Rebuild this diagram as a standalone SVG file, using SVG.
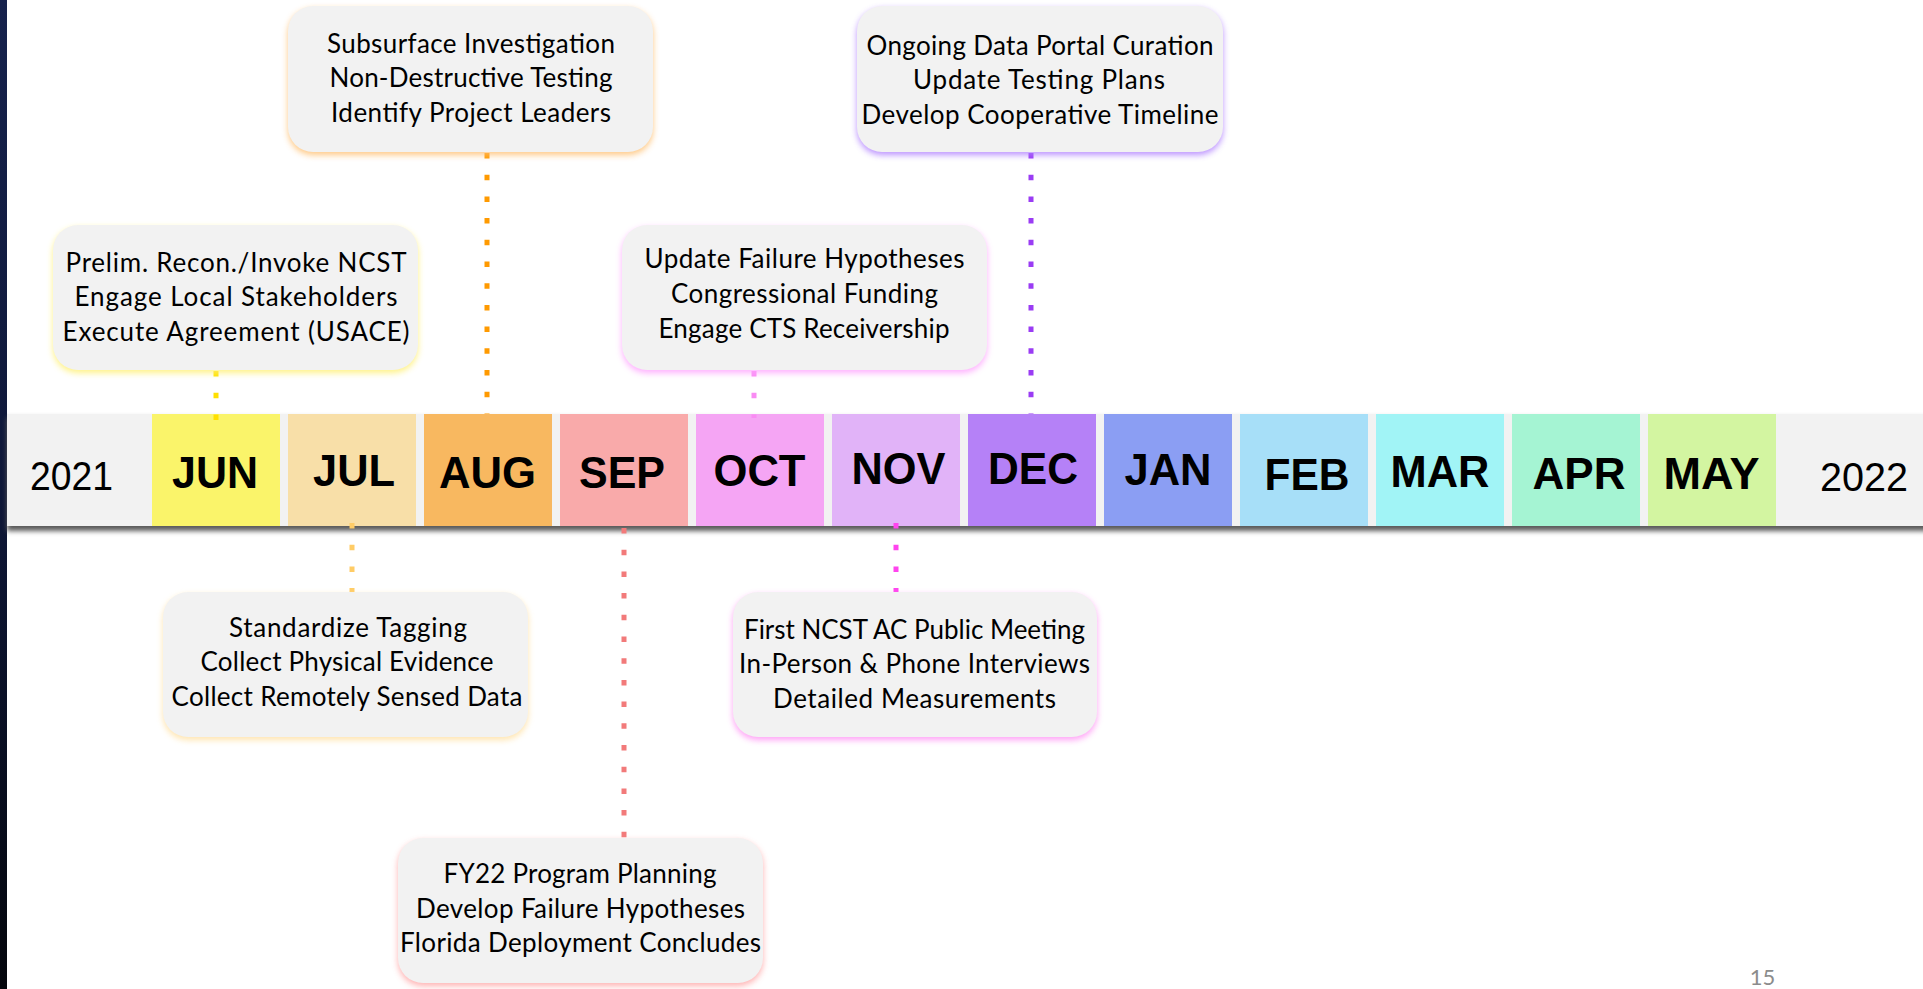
<svg xmlns="http://www.w3.org/2000/svg" width="1923" height="989" viewBox="0 0 1923 989">
<defs>
<linearGradient id="strip" x1="0" y1="0" x2="0" y2="1">
<stop offset="0" stop-color="#16224c"/>
<stop offset="0.5" stop-color="#0e1738"/>
<stop offset="1" stop-color="#04060c"/>
</linearGradient>
<filter id="blur" x="-10%" y="-20%" width="120%" height="140%"><feGaussianBlur stdDeviation="3"/></filter>
<filter id="sh" x="-5%" y="-20%" width="110%" height="160%"><feGaussianBlur stdDeviation="2.5"/></filter>
</defs>
<style>
.band{fill:#f2f2f2}
.mon{font-family:"Liberation Sans",Arial,sans-serif;font-weight:bold;font-size:45px;fill:#000;text-anchor:middle}
.yr{font-family:"Liberation Sans",Arial,sans-serif;font-size:41px;fill:#000;text-anchor:middle}
.box{fill:#f2f2f2}
.glow{filter:url(#blur);opacity:0.85}
.bt{font-family:Lato,"Open Sans",sans-serif;font-size:26px;fill:#000;text-anchor:middle}
.dot{stroke-width:5;stroke-dasharray:5.5 16.2;fill:none}
</style>
<rect width="1923" height="989" fill="#ffffff"/>
<rect x="0" y="0" width="7" height="989" fill="url(#strip)"/>

<g id="timeline">
<rect x="7" y="418" width="1930" height="113" fill="#5a5a5a" filter="url(#sh)"/>
<rect class="band" x="7" y="414" width="1916" height="112"/>
<rect x="152" y="414" width="128" height="112" fill="#faf46a"/>
<rect x="288" y="414" width="128" height="112" fill="#f8dfa8"/>
<rect x="424" y="414" width="128" height="112" fill="#f8b860"/>
<rect x="560" y="414" width="128" height="112" fill="#f9aaaa"/>
<rect x="696" y="414" width="128" height="112" fill="#f5a5f4"/>
<rect x="832" y="414" width="128" height="112" fill="#e1b3f8"/>
<rect x="968" y="414" width="128" height="112" fill="#b581f7"/>
<rect x="1104" y="414" width="128" height="112" fill="#8b9ef3"/>
<rect x="1240" y="414" width="128" height="112" fill="#a7dff8"/>
<rect x="1376" y="414" width="128" height="112" fill="#a1f4f6"/>
<rect x="1512" y="414" width="128" height="112" fill="#a5f4d3"/>
<rect x="1648" y="414" width="128" height="112" fill="#d3f5a1"/>
<text class="yr" x="71.5" y="490" textLength="83" lengthAdjust="spacingAndGlyphs">2021</text>
<text class="mon" x="215" y="488" textLength="86" lengthAdjust="spacingAndGlyphs">JUN</text>
<text class="mon" x="354" y="486" textLength="82" lengthAdjust="spacingAndGlyphs">JUL</text>
<text class="mon" x="487.5" y="488" textLength="97" lengthAdjust="spacingAndGlyphs">AUG</text>
<text class="mon" x="622" y="488" textLength="86" lengthAdjust="spacingAndGlyphs">SEP</text>
<text class="mon" x="759.5" y="486" textLength="92" lengthAdjust="spacingAndGlyphs">OCT</text>
<text class="mon" x="898.5" y="484" textLength="94" lengthAdjust="spacingAndGlyphs">NOV</text>
<text class="mon" x="1033" y="484" textLength="90" lengthAdjust="spacingAndGlyphs">DEC</text>
<text class="mon" x="1168" y="485" textLength="87" lengthAdjust="spacingAndGlyphs">JAN</text>
<text class="mon" x="1307" y="490" textLength="85" lengthAdjust="spacingAndGlyphs">FEB</text>
<text class="mon" x="1440" y="487" textLength="99" lengthAdjust="spacingAndGlyphs">MAR</text>
<text class="mon" x="1579" y="489" textLength="93" lengthAdjust="spacingAndGlyphs">APR</text>
<text class="mon" x="1711.5" y="489" textLength="96" lengthAdjust="spacingAndGlyphs">MAY</text>
<text class="yr" x="1864" y="490.5" textLength="88" lengthAdjust="spacingAndGlyphs">2022</text>
</g>

<g id="connectors">
<line class="dot" x1="216" y1="371" x2="216" y2="420" stroke="#ffe000"/>
<line class="dot" x1="487" y1="153" x2="487" y2="414" stroke="#ff9a00"/>
<line class="dot" x1="754" y1="371" x2="754" y2="418" stroke="#f98cf3"/>
<line class="dot" x1="1031" y1="153" x2="1031" y2="414" stroke="#9a3cf4"/>
<line class="dot" x1="352" y1="523" x2="352" y2="592" stroke="#ffcc66"/>
<line class="dot" x1="896" y1="523" x2="896" y2="592" stroke="#ff44ee"/>
<line class="dot" x1="624" y1="528" x2="624" y2="838" stroke="#f27a7a"/>
</g>

<g id="node-jun">
<rect class="glow" x="53" y="228" width="365" height="145" rx="25" fill="#fff070"/>
<rect class="box" x="53" y="225" width="365" height="145" rx="25"/>
<text class="bt" x="236" y="271.5" textLength="341">Prelim. Recon./Invoke NCST</text>
<text class="bt" x="236" y="305.5" textLength="323">Engage Local Stakeholders</text>
<text class="bt" x="236" y="341" textLength="347">Execute Agreement (USACE)</text>
</g>

<g id="node-aug">
<rect class="glow" x="288" y="9" width="365" height="146" rx="25" fill="#ffc070"/>
<rect class="box" x="288" y="6" width="365" height="146" rx="25"/>
<text class="bt" x="471" y="52.5" textLength="288">Subsurface Investigation</text>
<text class="bt" x="471" y="87" textLength="283">Non-Destructive Testing</text>
<text class="bt" x="471" y="121.5" textLength="280">Identify Project Leaders</text>
</g>

<g id="node-oct">
<rect class="glow" x="622" y="228" width="365" height="145" rx="25" fill="#ffa0ff"/>
<rect class="box" x="622" y="225" width="365" height="145" rx="25"/>
<text class="bt" x="804.5" y="268" textLength="320">Update Failure Hypotheses</text>
<text class="bt" x="804.5" y="302.5" textLength="267">Congressional Funding</text>
<text class="bt" x="804" y="337.5" textLength="291">Engage CTS Receivership</text>
</g>

<g id="node-dec">
<rect class="glow" x="857" y="9" width="366" height="146" rx="25" fill="#b080ff"/>
<rect class="box" x="857" y="6" width="366" height="146" rx="25"/>
<text class="bt" x="1040" y="55" textLength="347">Ongoing Data Portal Curation</text>
<text class="bt" x="1039" y="89" textLength="252">Update Testing Plans</text>
<text class="bt" x="1040" y="124" textLength="357">Develop Cooperative Timeline</text>
</g>

<g id="node-jul">
<rect class="glow" x="163" y="595" width="365" height="145" rx="25" fill="#ffe0a0"/>
<rect class="box" x="163" y="592" width="365" height="145" rx="25"/>
<text class="bt" x="348" y="636.5" textLength="238">Standardize Tagging</text>
<text class="bt" x="347" y="671" textLength="293">Collect Physical Evidence</text>
<text class="bt" x="347" y="705.5" textLength="351">Collect Remotely Sensed Data</text>
</g>

<g id="node-nov">
<rect class="glow" x="733" y="595" width="364" height="145" rx="25" fill="#ff90f4"/>
<rect class="box" x="733" y="592" width="364" height="145" rx="25"/>
<text class="bt" x="914.5" y="639" textLength="341">First NCST AC Public Meeting</text>
<text class="bt" x="914.5" y="673" textLength="351">In-Person &amp; Phone Interviews</text>
<text class="bt" x="914.5" y="707.5" textLength="283">Detailed Measurements</text>
</g>

<g id="node-sep">
<rect class="glow" x="398" y="841" width="365" height="145" rx="25" fill="#ffa4a4"/>
<rect class="box" x="398" y="838" width="365" height="145" rx="25"/>
<text class="bt" x="580" y="883" textLength="273">FY22 Program Planning</text>
<text class="bt" x="580.5" y="917.5" textLength="329">Develop Failure Hypotheses</text>
<text class="bt" x="580.5" y="951.5" textLength="361">Florida Deployment Concludes</text>
</g>

<text x="1762.5" y="985" font-family="Lato, 'Open Sans', sans-serif" font-size="22" fill="#8c8c8c" text-anchor="middle">15</text>
</svg>
